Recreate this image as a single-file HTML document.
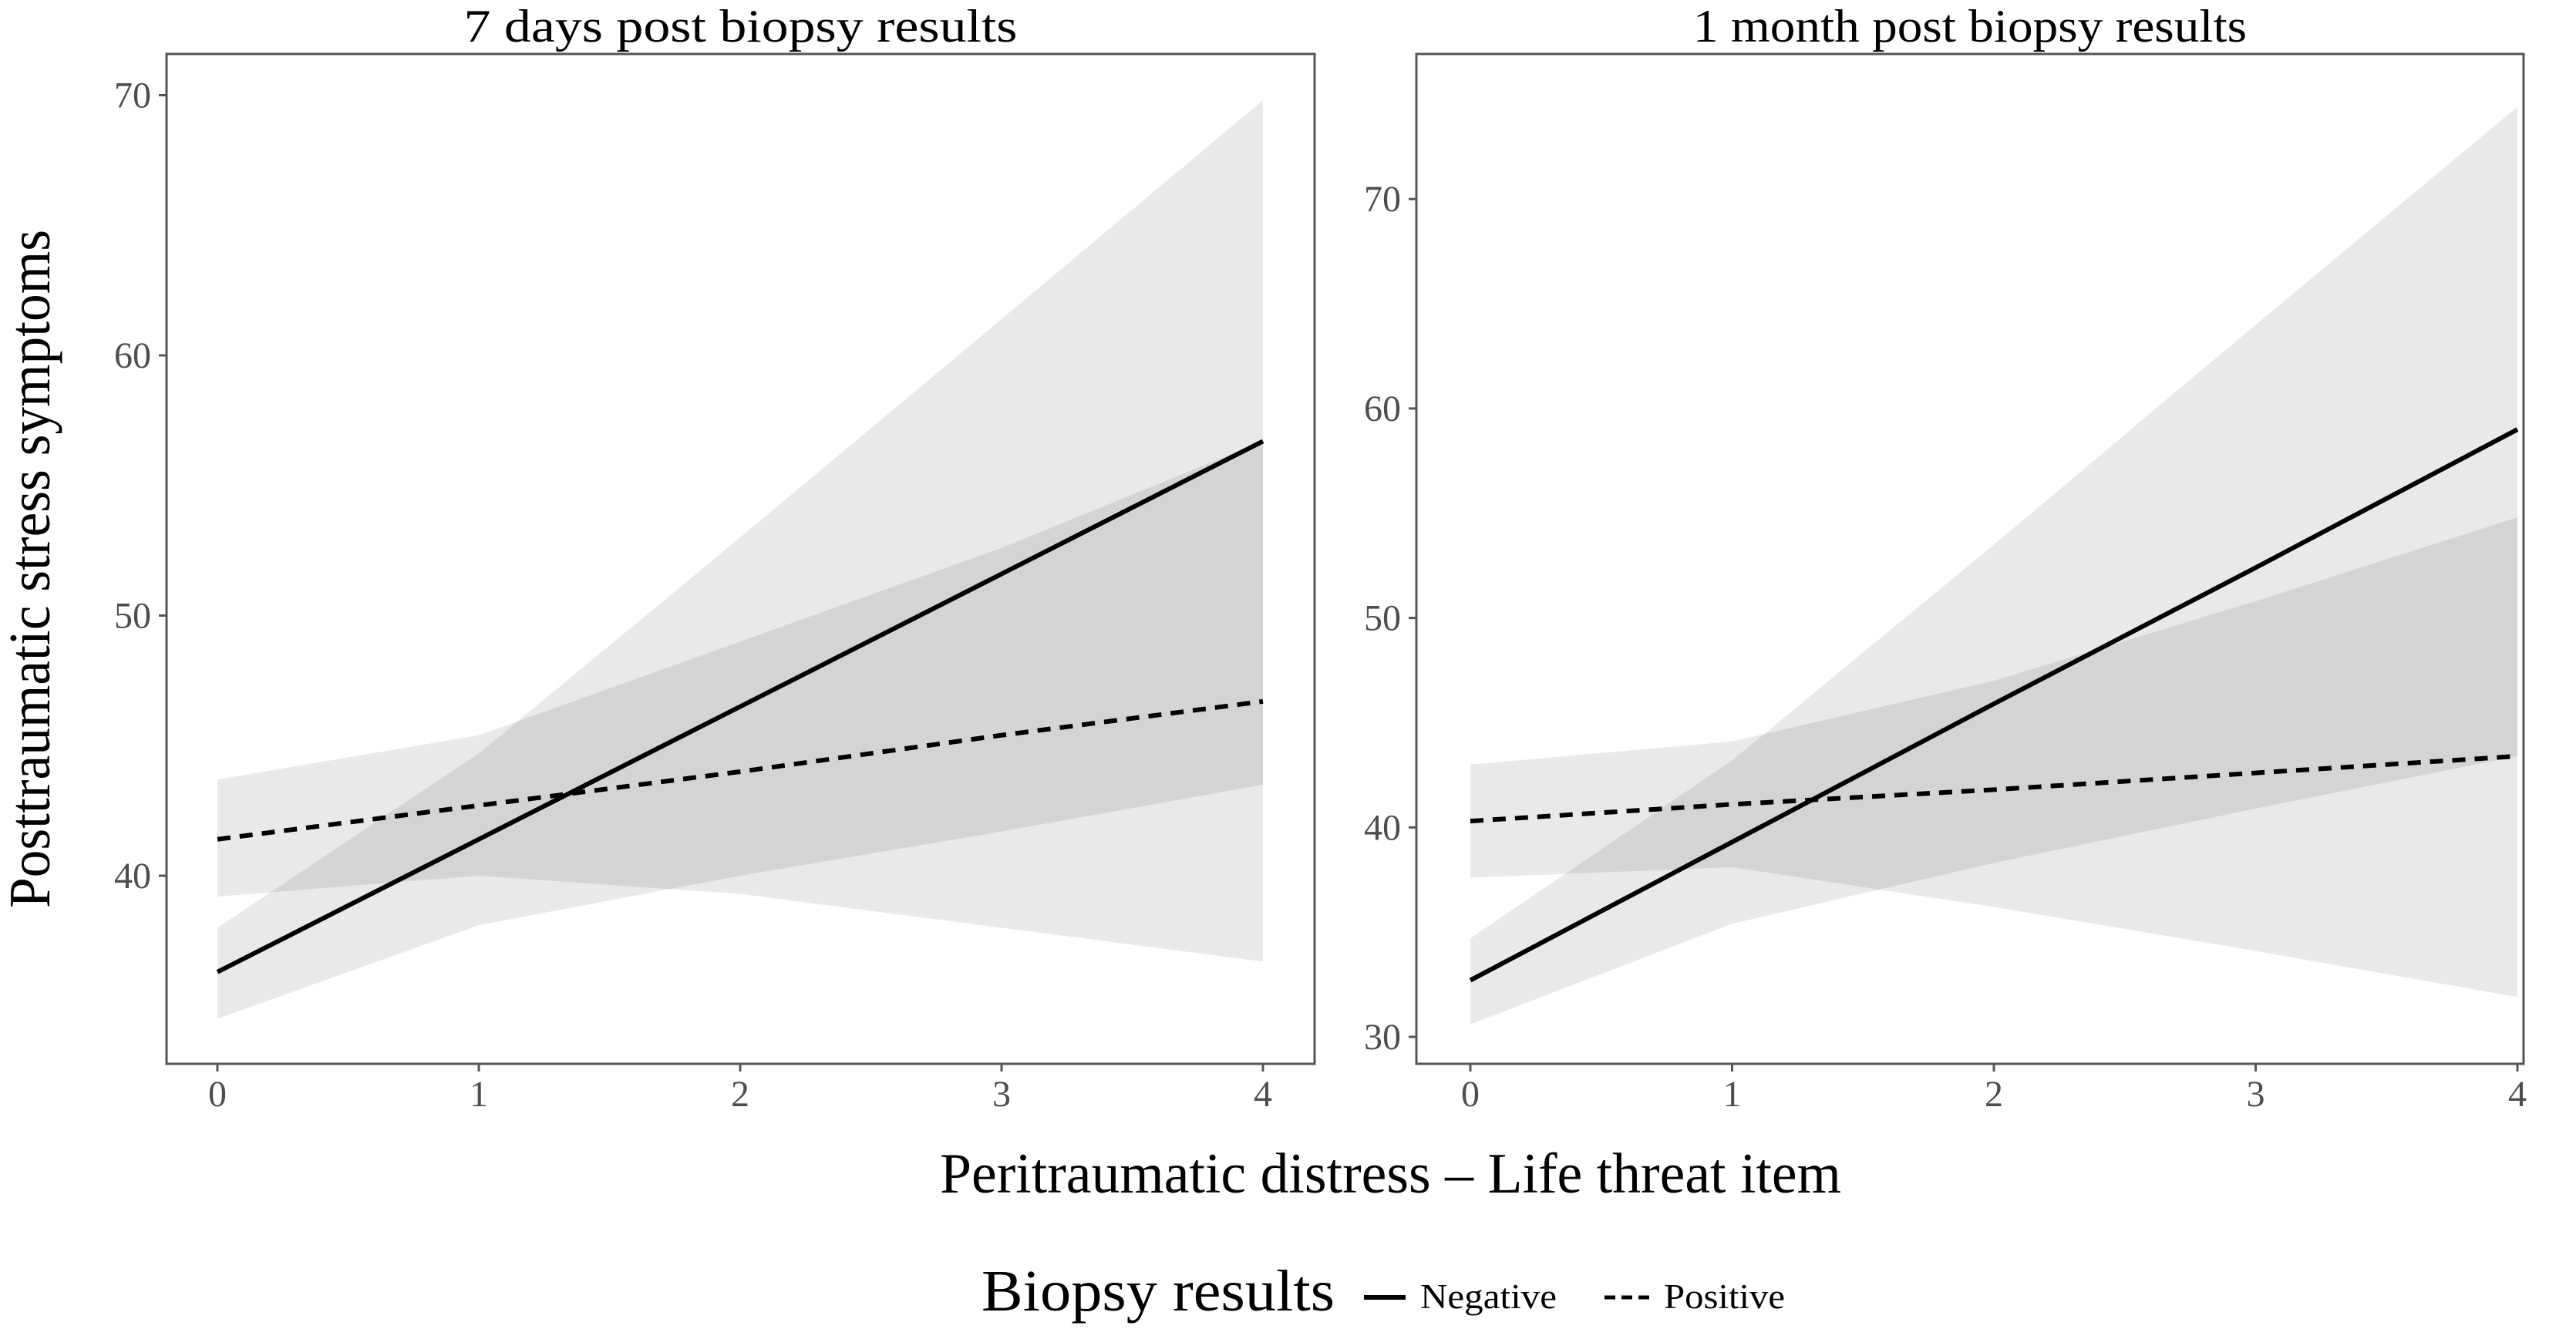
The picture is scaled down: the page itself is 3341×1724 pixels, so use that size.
<!DOCTYPE html>
<html><head><meta charset="utf-8">
<style>
html,body{margin:0;padding:0;background:#fff;}
svg{display:block;}
text{font-family:"Liberation Serif",serif;}
</style></head>
<body>
<svg id="chart" width="3341" height="1724" viewBox="0 0 3341 1724" xmlns="http://www.w3.org/2000/svg">
<rect width="3341" height="1724" fill="#fff"/>
<text x="0" y="0" transform="translate(64,738) rotate(-90)" text-anchor="middle" font-size="76" textLength="880" lengthAdjust="spacingAndGlyphs" fill="#000">Posttraumatic stress symptoms</text>
<text x="1219" y="1547" font-size="74" textLength="1169" lengthAdjust="spacingAndGlyphs" fill="#000">Peritraumatic distress – Life threat item</text>
<g>
<text x="1273" y="1700" font-size="76" textLength="458" lengthAdjust="spacingAndGlyphs" fill="#000">Biopsy results</text>
<line x1="1769" y1="1683" x2="1823" y2="1683" stroke="#000" stroke-width="6"/>
<text x="1842" y="1697" font-size="45" textLength="177" lengthAdjust="spacingAndGlyphs" fill="#000">Negative</text>
<line x1="2081" y1="1683" x2="2140" y2="1683" stroke="#000" stroke-width="5" stroke-dasharray="14,8"/>
<text x="2158" y="1697" font-size="45" textLength="157" lengthAdjust="spacingAndGlyphs" fill="#000">Positive</text>
</g>
<g id="p1"></g>
<g id="p2"></g>
</svg>
<script>
const xValues = [0, 1, 2, 3, 4];
const xTicks = [0, 1, 2, 3, 4];
// Panel 1: 7 days
const p1Title = "7 days post biopsy results";
const p1YTicks = [40, 50, 60, 70];
const p1NegFit = [36.3, 41.4, 46.5, 51.6, 56.7];
const p1NegLow = [34.5, 38.1, 40.0, 41.7, 43.5];
const p1NegHigh = [38.0, 44.7, 53.0, 61.4, 69.8];
const p1PosFit = [41.4, 42.7, 44.0, 45.4, 46.7];
const p1PosLow = [39.2, 40.0, 39.3, 38.0, 36.7];
const p1PosHigh = [43.7, 45.4, 49.0, 52.6, 56.7];
// Panel 2: 1 month
const p2Title = "1 month post biopsy results";
const p2YTicks = [30, 40, 50, 60, 70];
const p2NegFit = [32.7, 39.3, 45.9, 52.4, 59.0];
const p2NegLow = [30.6, 35.4, 38.3, 40.9, 43.4];
const p2NegHigh = [34.7, 43.2, 53.5, 64.0, 74.4];
const p2PosFit = [40.3, 41.1, 41.8, 42.6, 43.4];
const p2PosLow = [37.6, 38.1, 36.2, 34.1, 31.9];
const p2PosHigh = [43.0, 44.1, 47.0, 50.8, 54.8];

const NS = "http://www.w3.org/2000/svg";
function mk(parent, tag, attrs) {
  const e = document.createElementNS(NS, tag);
  for (const k in attrs) e.setAttribute(k, attrs[k]);
  parent.appendChild(e);
  return e;
}
function drawPanel(g, cfg) {
  const xs = v => cfg.x0 + (v - 0) * (cfg.x4 - cfg.x0) / 4;
  const ys = v => cfg.yRefPx - (v - cfg.yRef) * cfg.pxPerUnit;
  const t = mk(g, "text", {x: (cfg.left + cfg.right) / 2, y: 54, "text-anchor": "middle", "font-size": "60", textLength: cfg.titleLen, lengthAdjust: "spacingAndGlyphs", fill: "#000"});
  t.textContent = cfg.title;
  
  
  const bands = [[cfg.negLow, cfg.negHigh, 'band-negative'], [cfg.posLow, cfg.posHigh, 'band-positive']];
  bands.forEach(b => {
    let d = "";
    xValues.forEach((x, i) => { d += (i ? "L" : "M") + xs(x) + "," + ys(b[1][i]); });
    for (let i = xValues.length - 1; i >= 0; i--) d += "L" + xs(xValues[i]) + "," + ys(b[0][i]);
    const p = mk(g, "path", {d: d + "Z", fill: "#000", "fill-opacity": "0.085"});
    
    
  });
  const lines = [[cfg.negFit, 'line-negative', null], [cfg.posFit, 'line-positive', '17,12']];
  lines.forEach(l => {
    const pts = xValues.map((x, i) => xs(x) + "," + ys(l[0][i])).join(" ");
    const a = {points: pts, fill: "none", stroke: "#000", "stroke-width": "6"};
    if (l[2]) a["stroke-dasharray"] = l[2];
    const pl = mk(g, "polyline", a);
    
    
  });
  const box = mk(g, "rect", {x: cfg.left, y: cfg.top, width: cfg.right - cfg.left, height: cfg.bottom - cfg.top, fill: "none", stroke: "#555", "stroke-width": "3"});
  
  
  cfg.yTicks.forEach(v => {
    const y = ys(v);
    const tk = mk(g, "line", {x1: cfg.left - 10, x2: cfg.left, y1: y, y2: y, stroke: "#555", "stroke-width": "3"});
    
    
    const tl = mk(g, "text", {x: cfg.left - 20, y: y + 16, "text-anchor": "end", "font-size": "48", fill: "#4d4d4d"});
    tl.textContent = v;
    
    
  });
  xTicks.forEach(v => {
    const x = xs(v);
    const tk = mk(g, "line", {x1: x, x2: x, y1: cfg.bottom, y2: cfg.bottom + 10, stroke: "#555", "stroke-width": "3"});
    
    
    const tl = mk(g, "text", {x: x, y: 1435, "text-anchor": "middle", "font-size": "48", fill: "#4d4d4d"});
    tl.textContent = v;
    
    
  });
}
drawPanel(document.getElementById("p1"), {
  left: 216, right: 1705, top: 70, bottom: 1380, x0: 282, x4: 1638,
  yRef: 40, yRefPx: 1136, pxPerUnit: 33.75, yTicks: p1YTicks, title: p1Title, titleLen: 718,
  negFit: p1NegFit, negLow: p1NegLow, negHigh: p1NegHigh, posFit: p1PosFit, posLow: p1PosLow, posHigh: p1PosHigh
});
drawPanel(document.getElementById("p2"), {
  left: 1837, right: 3273, top: 70, bottom: 1380, x0: 1907, x4: 3265,
  yRef: 30, yRefPx: 1345, pxPerUnit: 27.17, yTicks: p2YTicks, title: p2Title, titleLen: 718,
  negFit: p2NegFit, negLow: p2NegLow, negHigh: p2NegHigh, posFit: p2PosFit, posLow: p2PosLow, posHigh: p2PosHigh
});
</script>
</body></html>
